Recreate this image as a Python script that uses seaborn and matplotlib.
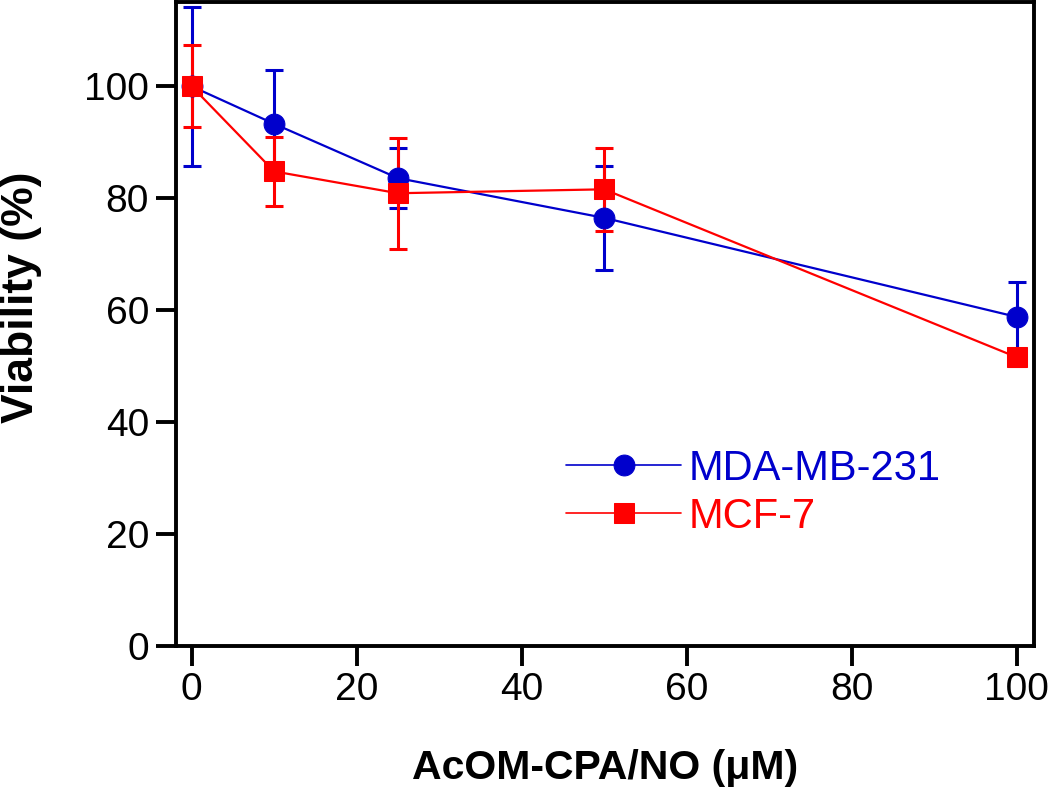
import pandas as pd
import matplotlib
matplotlib.use("Agg")
import matplotlib.pyplot as plt
import seaborn as sns

# Data
conc = [0, 10, 25, 50, 100]
mda_mean = [100.0, 93.3, 83.6, 76.5, 58.8]
mda_err = [14.2, 9.6, 5.3, 9.3, 6.3]
mcf_mean = [100.0, 84.8, 80.9, 81.6, 51.6]
mcf_err = [7.3, 6.1, 9.9, 7.4, 1.5]
series = ["MDA-MB-231", "MCF-7"]
colors = {"MDA-MB-231": "#0000CC", "MCF-7": "#FF0000"}
markers = {"MDA-MB-231": "o", "MCF-7": "s"}

df = pd.DataFrame({
    "conc": conc * 2,
    "viability": mda_mean + mcf_mean,
    "err": mda_err + mcf_err,
    "line": [series[0]] * 5 + [series[1]] * 5,
})

sns.set_style("ticks")
plt.rcParams["font.family"] = ["Liberation Sans", "DejaVu Sans"]
for k in ["axes.edgecolor", "xtick.color", "ytick.color", "text.color", "axes.labelcolor"]:
    plt.rcParams[k] = "black"

fig = plt.figure(figsize=(10.5, 7.95), dpi=100)
ax = fig.add_axes([0.1676, 0.1874, 0.8172, 0.8096])

for name in series:
    sub = df[df["line"] == name]
    ax.errorbar(sub["conc"], sub["viability"], yerr=sub["err"], fmt="none",
                ecolor=colors[name], elinewidth=2.2, capsize=6.5, capthick=2.2, zorder=2)
    sns.lineplot(data=sub, x="conc", y="viability", color=colors[name],
                 marker=markers[name], markersize=15 if name == series[0] else 14,
                 markeredgecolor=colors[name], linewidth=1.6, label=name, ax=ax, zorder=3)

ax.set_xlim(-1.9, 102.1)
ax.set_ylim(0, 115)
ax.set_xticks([0, 20, 40, 60, 80, 100])
ax.set_yticks([0, 20, 40, 60, 80, 100])
ax.tick_params(axis="both", direction="out", length=14.5, width=2.8, labelsize=28)
ax.tick_params(axis="x", pad=4)
ax.tick_params(axis="y", pad=5)
for s in ax.spines.values():
    s.set_linewidth(2.8)
    s.set_visible(True)

ax.set_xlabel("AcOM-CPA/NO (\u03bcM)", fontsize=29.5, fontweight="bold", labelpad=30)
ax.set_ylabel("Viability (%)", fontsize=32, fontweight="bold")
ax.yaxis.set_label_coords(-0.156, 0.542)

leg = ax.legend(loc="center left", bbox_to_anchor=(0.411, 0.238), frameon=False,
                fontsize=30, handlelength=2.76, handletextpad=0.19, labelspacing=0.2)
for txt, name in zip(leg.get_texts(), series):
    txt.set_color(colors[name])
for h in leg.get_lines():
    h.set_linewidth(1.2)

fig.savefig("out.png", dpi=100)
